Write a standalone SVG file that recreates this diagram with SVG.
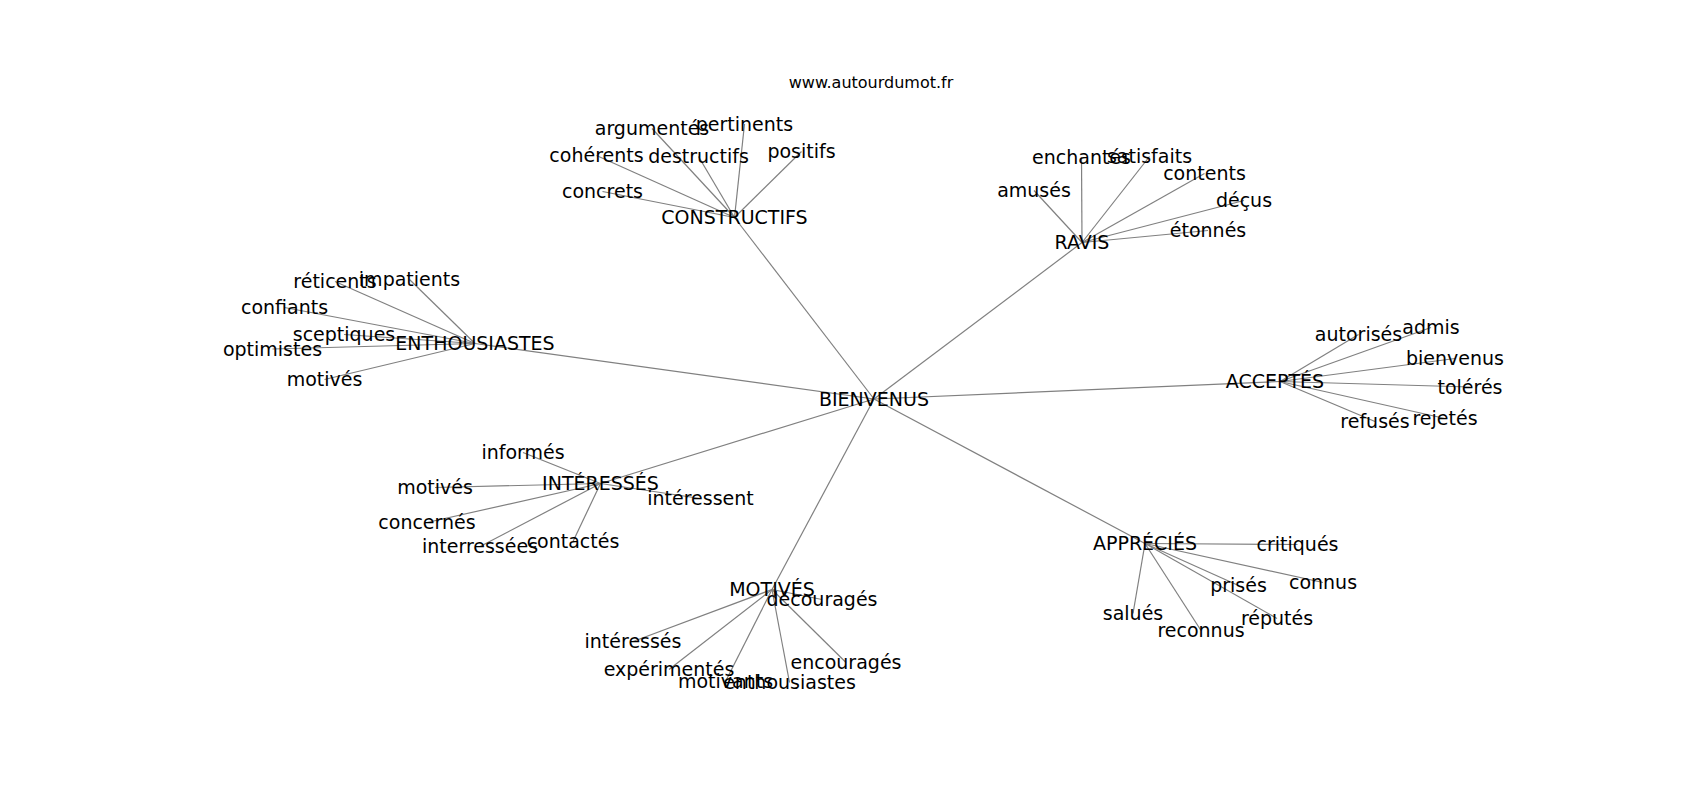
<svg xmlns="http://www.w3.org/2000/svg" width="1700" height="800" viewBox="0 0 1700 800">
<style>
text{font-family:"DejaVu Sans","Liberation Sans",sans-serif;font-size:19px;fill:#000;text-anchor:middle}
.title{font-size:16px}
#edges line{stroke:#808080;stroke-width:1.2}
</style>
<rect width="1700" height="800" fill="#fff"/>
<g id="edges">
<line x1="874" y1="399" x2="734.5" y2="217.5"/>
<line x1="874" y1="399" x2="1082" y2="242.5"/>
<line x1="874" y1="399" x2="475" y2="343.5"/>
<line x1="874" y1="399" x2="1280" y2="381.5"/>
<line x1="874" y1="399" x2="600.5" y2="483.5"/>
<line x1="874" y1="399" x2="772" y2="589.5"/>
<line x1="874" y1="399" x2="1145" y2="543.5"/>
<line x1="734.5" y1="217.5" x2="652" y2="128.5"/>
<line x1="734.5" y1="217.5" x2="744.5" y2="124"/>
<line x1="734.5" y1="217.5" x2="596.5" y2="155.5"/>
<line x1="734.5" y1="217.5" x2="698.5" y2="156.5"/>
<line x1="734.5" y1="217.5" x2="801.5" y2="151.5"/>
<line x1="734.5" y1="217.5" x2="602.5" y2="191.5"/>
<line x1="1082" y1="242.5" x2="1081.5" y2="157.5"/>
<line x1="1082" y1="242.5" x2="1149.5" y2="156.5"/>
<line x1="1082" y1="242.5" x2="1204.5" y2="173.5"/>
<line x1="1082" y1="242.5" x2="1034" y2="190.5"/>
<line x1="1082" y1="242.5" x2="1244" y2="200.5"/>
<line x1="1082" y1="242.5" x2="1208" y2="230.5"/>
<line x1="475" y1="343.5" x2="335" y2="281.5"/>
<line x1="475" y1="343.5" x2="409.5" y2="279.5"/>
<line x1="475" y1="343.5" x2="284.5" y2="307.5"/>
<line x1="475" y1="343.5" x2="344" y2="334.5"/>
<line x1="475" y1="343.5" x2="272.5" y2="349"/>
<line x1="475" y1="343.5" x2="324.5" y2="379.5"/>
<line x1="1280" y1="381.5" x2="1358.5" y2="334.5"/>
<line x1="1280" y1="381.5" x2="1431" y2="327.5"/>
<line x1="1280" y1="381.5" x2="1455" y2="358.5"/>
<line x1="1280" y1="381.5" x2="1470" y2="387"/>
<line x1="1280" y1="381.5" x2="1445" y2="418.5"/>
<line x1="1280" y1="381.5" x2="1375" y2="421.5"/>
<line x1="600.5" y1="483.5" x2="523" y2="452.5"/>
<line x1="600.5" y1="483.5" x2="435" y2="487.5"/>
<line x1="600.5" y1="483.5" x2="700.5" y2="498.5"/>
<line x1="600.5" y1="483.5" x2="427" y2="522.5"/>
<line x1="600.5" y1="483.5" x2="480" y2="546.5"/>
<line x1="600.5" y1="483.5" x2="573" y2="541.5"/>
<line x1="772" y1="589.5" x2="822" y2="599.5"/>
<line x1="772" y1="589.5" x2="633" y2="641.5"/>
<line x1="772" y1="589.5" x2="669" y2="669.5"/>
<line x1="772" y1="589.5" x2="846" y2="662.5"/>
<line x1="772" y1="589.5" x2="725.5" y2="681.5"/>
<line x1="772" y1="589.5" x2="789.5" y2="682.5"/>
<line x1="1145" y1="543.5" x2="1297.5" y2="544.5"/>
<line x1="1145" y1="543.5" x2="1323" y2="582.5"/>
<line x1="1145" y1="543.5" x2="1238.5" y2="585.5"/>
<line x1="1145" y1="543.5" x2="1133" y2="613.5"/>
<line x1="1145" y1="543.5" x2="1277" y2="618.5"/>
<line x1="1145" y1="543.5" x2="1201" y2="630.5"/>
</g>
<text class="title" x="871" y="88">www.autourdumot.fr</text>
<g id="n-bienvenus"><text x="874" y="405.5">BIENVENUS</text></g>
<g id="n-constructifs"><text x="734.5" y="224">CONSTRUCTIFS</text></g>
<g id="n-argumentes"><text x="652" y="135">argumentés</text></g>
<g id="n-pertinents"><text x="744.5" y="130.5">pertinents</text></g>
<g id="n-coherents"><text x="596.5" y="162">cohérents</text></g>
<g id="n-destructifs"><text x="698.5" y="163">destructifs</text></g>
<g id="n-positifs"><text x="801.5" y="158">positifs</text></g>
<g id="n-concrets"><text x="602.5" y="198">concrets</text></g>
<g id="n-ravis"><text x="1082" y="249">RAVIS</text></g>
<g id="n-enchantes"><text x="1081.5" y="164">enchantés</text></g>
<g id="n-satisfaits"><text x="1149.5" y="163">satisfaits</text></g>
<g id="n-contents"><text x="1204.5" y="180">contents</text></g>
<g id="n-amuses"><text x="1034" y="197">amusés</text></g>
<g id="n-decus"><text x="1244" y="207">déçus</text></g>
<g id="n-etonnes"><text x="1208" y="237">étonnés</text></g>
<g id="n-enthousiastes-hub"><text x="475" y="350">ENTHOUSIASTES</text></g>
<g id="n-reticents"><text x="335" y="288">réticents</text></g>
<g id="n-impatients"><text x="409.5" y="286">impatients</text></g>
<g id="n-confiants"><text x="284.5" y="314">confiants</text></g>
<g id="n-sceptiques"><text x="344" y="341">sceptiques</text></g>
<g id="n-optimistes"><text x="272.5" y="355.5">optimistes</text></g>
<g id="n-motives-1"><text x="324.5" y="386">motivés</text></g>
<g id="n-acceptes"><text x="1275" y="388">ACCEPTÉS</text></g>
<g id="n-autorises"><text x="1358.5" y="341">autorisés</text></g>
<g id="n-admis"><text x="1431" y="334">admis</text></g>
<g id="n-bienvenus-leaf"><text x="1455" y="365">bienvenus</text></g>
<g id="n-toleres"><text x="1470" y="393.5">tolérés</text></g>
<g id="n-rejetes"><text x="1445" y="425">rejetés</text></g>
<g id="n-refuses"><text x="1375" y="428">refusés</text></g>
<g id="n-interesses-hub"><text x="600.5" y="490">INTÉRESSÉS</text></g>
<g id="n-informes"><text x="523" y="459">informés</text></g>
<g id="n-motives-2"><text x="435" y="494">motivés</text></g>
<g id="n-interessent"><text x="700.5" y="505">intéressent</text></g>
<g id="n-concernes"><text x="427" y="529">concernés</text></g>
<g id="n-interressees"><text x="480" y="553">interressées</text></g>
<g id="n-contactes"><text x="573" y="548">contactés</text></g>
<g id="n-motives-hub"><text x="772" y="596">MOTIVÉS</text></g>
<g id="n-decourages"><text x="822" y="606">découragés</text></g>
<g id="n-interesses"><text x="633" y="648">intéressés</text></g>
<g id="n-experimentes"><text x="669" y="676">expérimentés</text></g>
<g id="n-encourages"><text x="846" y="669">encouragés</text></g>
<g id="n-motivants"><text x="725.5" y="688">motivants</text></g>
<g id="n-enthousiastes"><text x="789.5" y="689">enthousiastes</text></g>
<g id="n-apprecies"><text x="1145" y="550">APPRÉCIÉS</text></g>
<g id="n-critiques"><text x="1297.5" y="551">critiqués</text></g>
<g id="n-connus"><text x="1323" y="589">connus</text></g>
<g id="n-prises"><text x="1238.5" y="592">prisés</text></g>
<g id="n-salues"><text x="1133" y="620">salués</text></g>
<g id="n-reputes"><text x="1277" y="625">réputés</text></g>
<g id="n-reconnus"><text x="1201" y="637">reconnus</text></g>
</svg>
